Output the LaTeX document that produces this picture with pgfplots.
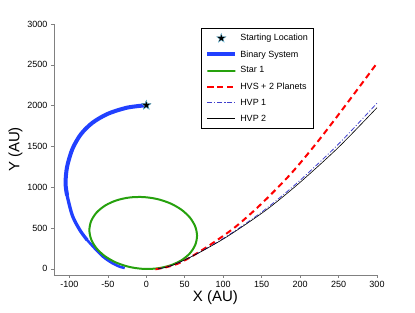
\documentclass[border=0pt]{standalone}
\usepackage{pgfplots}
\pgfplotsset{compat=1.18}
\usepackage{fontspec}
\setmainfont{Liberation Sans}
\definecolor{binblue}{rgb}{0.13,0.25,1.0}
\definecolor{stargreen}{rgb}{0.15,0.63,0.05}
\definecolor{hvpblue}{rgb}{0.25,0.25,0.8}
\definecolor{axgray}{rgb}{0.5,0.5,0.5}
\pgfdeclareplotmark{fstar}{%
  \pgfpathmoveto{\pgfpointpolar{90}{\pgfplotmarksize}}%
  \pgfpathlineto{\pgfpointpolar{126}{0.382*\pgfplotmarksize}}%
  \pgfpathlineto{\pgfpointpolar{162}{\pgfplotmarksize}}%
  \pgfpathlineto{\pgfpointpolar{198}{0.382*\pgfplotmarksize}}%
  \pgfpathlineto{\pgfpointpolar{234}{\pgfplotmarksize}}%
  \pgfpathlineto{\pgfpointpolar{270}{0.382*\pgfplotmarksize}}%
  \pgfpathlineto{\pgfpointpolar{306}{\pgfplotmarksize}}%
  \pgfpathlineto{\pgfpointpolar{342}{0.382*\pgfplotmarksize}}%
  \pgfpathlineto{\pgfpointpolar{18}{\pgfplotmarksize}}%
  \pgfpathlineto{\pgfpointpolar{54}{0.382*\pgfplotmarksize}}%
  \pgfpathclose
  \pgfusepathqfillstroke}
\begin{document}
\begin{tikzpicture}
\useasboundingbox (-54pt,-38pt) rectangle (361pt,275pt);
\begin{axis}[
  scale only axis,
  width=323pt, height=251pt,
  xmin=-120, xmax=300, ymin=-75, ymax=3000,
  xtick={-100,-50,...,300}, ytick={0,500,...,3000},
  axis lines=left,
  axis line style={axgray, -},
  tick align=outside,
  tick style={axgray, line width=0.6pt},
  major tick length=3pt,
  scaled ticks=false,
  /pgf/number format/1000 sep={},
  /pgf/number format/assume math mode=true,
  tick label style={font=\fontsize{9}{10}\selectfont, black},
  xlabel={X (AU)}, ylabel={Y (AU)},
  label style={font=\fontsize{15}{17}\selectfont},
  xlabel style={yshift=4pt},
  ylabel style={yshift=-2pt},
  legend style={at={(0.802,0.984)}, anchor=north east, font=\fontsize{9}{11}\selectfont,
    draw=black, line width=0.5pt, row sep=4.2pt, inner xsep=3pt, inner ysep=4pt},
  legend cell align=left,
  legend image code/.code={\draw[mark repeat=2,mark phase=2,#1] plot coordinates {(0pt,0pt) (14pt,0pt) (28pt,0pt)};},
]
\addplot[only marks, mark=fstar, mark size=5pt, draw=cyan!50!white, fill=black, line width=0.3pt] coordinates {(0,2005)};
\addlegendentry{Starting Location}
\addplot[binblue, line width=4pt, smooth] coordinates {
(0,2005) (-25,1975) (-50,1900) (-70,1790) (-85,1650) (-96,1470) (-103,1250) (-105,1050)
(-103,900)};
\addlegendentry{Binary System}
\addplot[binblue, line width=3.3pt, smooth, forget plot] coordinates {
(-103.6,950) (-103,900) (-96,650) (-86,470) (-77,355)};
\addplot[binblue, line width=2.6pt, smooth, forget plot] coordinates {
(-80,390) (-77,355) (-66,240) (-56,147) (-45,75) (-34,25) (-28,12)};
\addplot[stargreen, line width=2pt, smooth cycle] coordinates {
(66,405) (63.6,520.1) (56.6,629.7) (45.5,726.4) (31,803.5) (14.1,855.9) (-4,880)
(-22.1,874.1) (-39,838.5) (-53.5,775.8) (-64.6,690.3) (-71.6,587.7) (-74,475)
(-71.6,359.9) (-64.6,250.3) (-53.5,153.6) (-39,76.5) (-22.1,24.1) (-4,0)
(14.1,5.9) (31,41.5) (45.5,104.2) (56.6,189.7) (63.6,292.3)};
\addlegendentry{Star 1}
\addplot[red, line width=2pt, dash pattern=on 6pt off 4pt, smooth] coordinates {
(12,-5) (25,18) (40,60) (55,130) (83,294) (116,515) (150,800) (188,1165) (223,1560) (262,2040) (300,2520)};
\addlegendentry{HVS + 2 Planets}
\addplot[hvpblue, line width=0.8pt, dash pattern=on 5pt off 2pt on 1pt off 2pt, smooth] coordinates {
(15,0) (25,18) (35,48) (50,110) (70,206) (100,372) (130,560) (160,768) (200,1085) (250,1530) (300,2030)};
\addlegendentry{HVP 1}
\addplot[black, line width=0.6pt, smooth] coordinates {
(15,0) (25,18) (35,48) (50,110) (70,205) (100,365) (130,550) (160,750) (200,1060) (250,1490) (300,1975)};
\addlegendentry{HVP 2}
\addplot[only marks, mark=fstar, mark size=5pt, draw=cyan!50!white, fill=black, line width=0.3pt, forget plot] coordinates {(0,2005)};
\end{axis}
\end{tikzpicture}
\end{document}
